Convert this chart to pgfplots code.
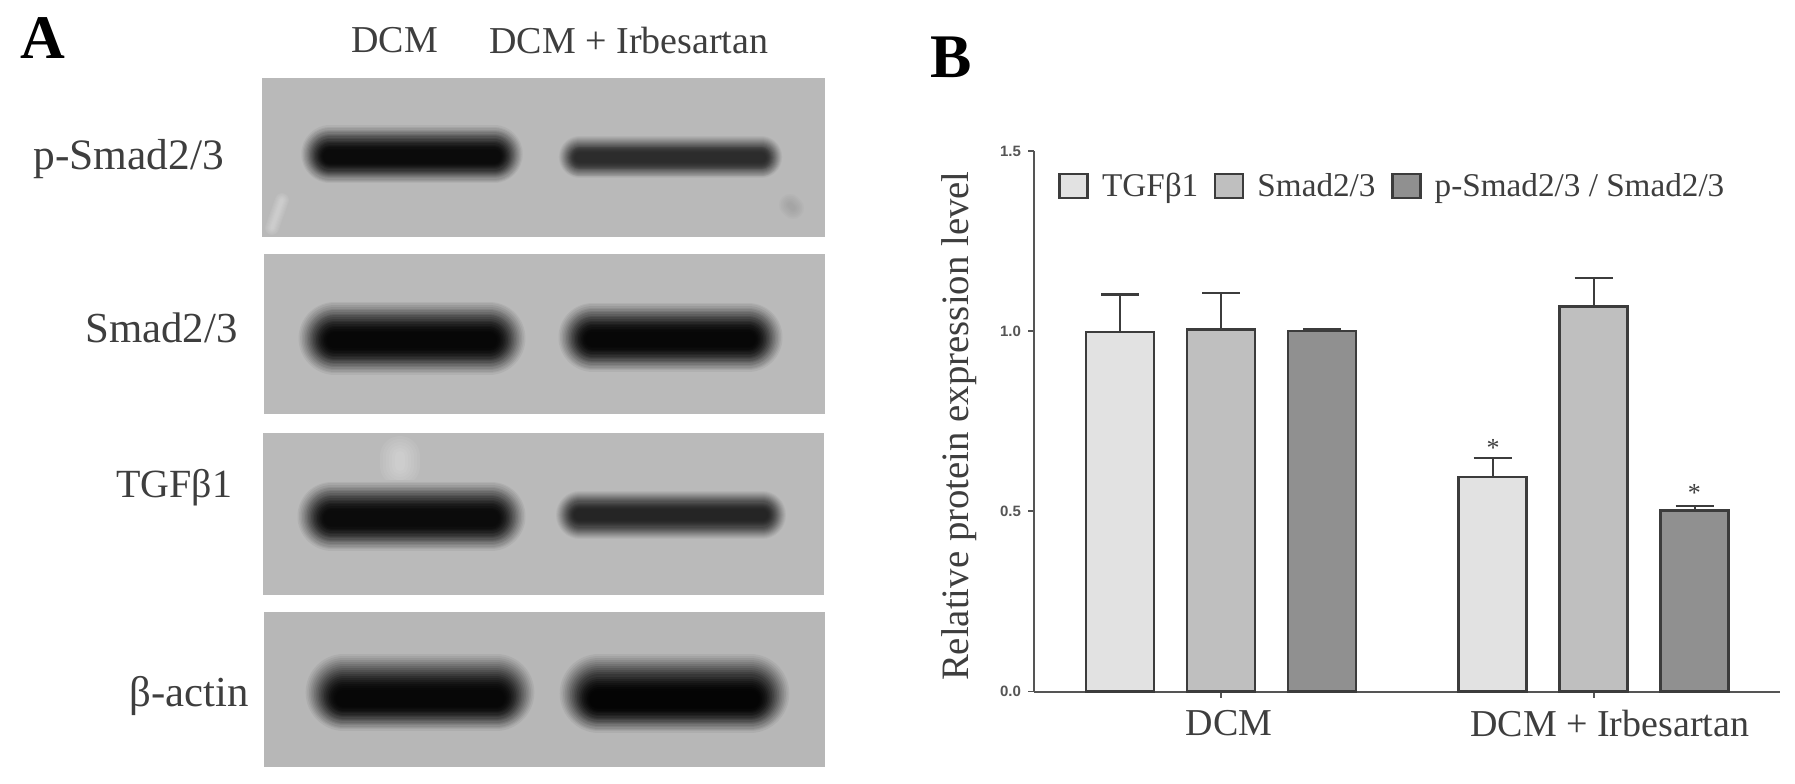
\documentclass[border=0pt]{standalone}
\usepackage{pgfplots}
\usepackage{fontspec}
\setmainfont{Liberation Serif}
\newfontfamily\ticksans{Liberation Sans}
\pgfplotsset{compat=1.18}
\definecolor{inktxt}{HTML}{3E3E3E}
\definecolor{axisgrey}{HTML}{555555}
\definecolor{barline}{HTML}{3C3C3C}
\definecolor{barA}{HTML}{E2E2E2}
\definecolor{barB}{HTML}{BFBFBF}
\definecolor{barC}{HTML}{909090}
\definecolor{bgA}{HTML}{B9B9B9}
\definecolor{bgB}{HTML}{BABABA}
\definecolor{bgC}{HTML}{BABABA}
\definecolor{bgD}{HTML}{B7B7B7}
% one blot panel, background rectangle in pixel coordinates
\newcommand{\panel}[5]{\addplot[forget plot,fill=#5,draw=none] coordinates {(#1,#3)(#2,#3)(#2,#4)(#1,#4)} -- cycle;}
% one band: x1 x2 ycentre halfheight peak-darkness background core-offset
\newcommand{\band}[7]{%
 \foreach \i in {0,...,23}{%
  \pgfmathsetmacro\t{\i/24}%
  \pgfmathsetmacro\s{min(1,\t/0.8)}%
  \pgfmathsetmacro\p{#5*0.5*((1-(1-\s)*(1-\s))+\s*\s*(3-2*\s))}%
  \pgfmathsetmacro\lw{#4*(1-\t)}%
  \pgfmathsetmacro\xa{#1+#4}%
  \pgfmathsetmacro\xb{#2-#4}%
  \pgfmathsetmacro\yy{#3+#7*\t}%
  \edef\temp{\noexpand\addplot[forget plot,line cap=round,line width=\lw pt,color=black!\p!#6] coordinates {(\xa,\yy)(\xb,\yy)};}%
  \temp
 }}
% faint mark on a blot: x1 y1 x2 y2 width colour
\newcommand{\smear}[6]{%
 \foreach \f in {1,0.85,0.7,0.55,0.4,0.25}{%
  \pgfmathsetmacro\lw{#5*\f}%
  \edef\temp{\noexpand\addplot[forget plot,line cap=round,line width=\lw pt,color=#6,opacity=0.06] coordinates {(#1,#2)(#3,#4)};}%
  \temp
 }}
\newcommand{\blotlabel}[5][inktxt]{\node[anchor=base west,inner sep=0pt,text=#1,font=\fontsize{#5}{#5}\selectfont] at (axis cs:#2,#3) {#4};}
\begin{document}
\begin{tikzpicture}
\path[use as bounding box] (0,0) rectangle (897.5pt,391.5pt);
% ---------- panel A ----------
\begin{axis}[at={(0,0)},anchor=south west,scale only axis,width=897.5pt,height=391.5pt,
  hide axis,clip=false,xmin=0,xmax=1795,ymin=0,ymax=783,y dir=reverse,no marks]
\panel{262}{825}{78}{237}{bgA}
\panel{264}{825}{254}{414}{bgB}
\panel{263}{824}{433}{595}{bgC}
\panel{264}{825}{612}{767}{bgD}
\smear{282}{200}{272}{228}{7}{white}
\smear{790}{205}{793}{208}{11}{gray}
\smear{400}{456}{400}{466}{20}{white}
\band{300}{524}{154}{30}{94}{bgA}{3}
\band{558}{783}{157}{22}{76}{bgA}{1}
\band{297}{527}{338}{38}{96}{bgB}{3}
\band{557}{784}{337}{36}{96}{bgB}{3}
\band{296}{527}{516}{36}{94}{bgC}{3}
\band{555}{787}{515}{25}{80}{bgC}{0}
\band{304}{536}{692}{40}{96}{bgD}{8}
\band{558}{791}{693}{41}{98}{bgD}{8}
\blotlabel[black]{20}{58}{\bfseries A}{31}
\blotlabel[black]{930}{77}{\bfseries B}{31}
\blotlabel{351}{52}{DCM}{19}
\blotlabel{489}{53}{DCM + Irbesartan}{19}
\blotlabel{33}{169}{p-Smad2/3}{21.7}
\blotlabel{85}{342}{Smad2/3}{21.4}
\blotlabel{116}{497}{TGFβ1}{20}
\blotlabel{129}{706}{β-actin}{21.4}
\end{axis}
% ---------- panel B ----------
\begin{axis}[at={(517pt,45.75pt)},anchor=south west,scale only axis,width=373pt,height=270.25pt,
  xmin=-0.502,xmax=1.5,ymin=0,ymax=1.5,
  ybar,bar width=34pt,
  axis x line=bottom,axis y line=left,
  axis line style={draw=axisgrey,line width=1pt,-},
  tick style={draw=axisgrey,line width=0.9pt},
  tick align=outside,major tick length=3pt,
  xtick={0,1},xticklabels={\hspace*{8pt}DCM,\hspace*{16pt}\raisebox{1.7pt}{DCM + Irbesartan}},
  x tick label style={font=\fontsize{19}{19}\selectfont,text=inktxt,yshift=-3pt},
  ytick={0,0.5,1,1.5},
  y tick label style={font=\ticksans\bfseries\fontsize{7.5}{8}\selectfont,text=axisgrey,
     /pgf/number format/assume math mode=true,/pgf/number format/fixed,/pgf/number format/fixed zerofill,/pgf/number format/precision=1},
  ylabel={Relative protein expression level},
  y label style={at={(axis description cs:-0.100,0.491)},anchor=center,rotate=0,font=\fontsize{19.4}{20}\selectfont,text=inktxt},
  error bars/y dir=plus,error bars/y explicit,
  error bars/error bar style={draw=barline,line width=1.1pt},
  error bars/error mark options={rotate=90,mark size=9.5pt,line width=1.1pt,draw=barline},
  legend style={at={(axis description cs:0.032,0.935)},anchor=west,draw=none,fill=none,inner sep=0pt,
     legend columns=-1,font=\fontsize{16.6}{17}\selectfont,text=inktxt,
     /tikz/every even column/.append style={column sep=5.7pt},
     /tikz/every odd column/.append style={column sep=4.6pt}},
  legend image code/.code={\draw[#1] (0pt,-6pt) rectangle (14pt,6pt);},
  clip=false]
\addplot[fill=barA,draw=barline,line width=1.3pt,bar shift=-50.5pt] coordinates {(0,0.998) +- (0,0.104) (1,0.595) +- (0,0.053)};
\addlegendentry{TGFβ1}
\addplot[fill=barB,draw=barline,line width=1.3pt,bar shift=0pt] coordinates {(0,1.005) +- (0,0.102) (1,1.068) +- (0,0.080)};
\addlegendentry{Smad2/3}
\addplot[fill=barC,draw=barline,line width=1.3pt,bar shift=50.5pt] coordinates {(0,1.000) +- (0,0.007) (1,0.502) +- (0,0.013)};
\addlegendentry{p-Smad2/3 / Smad2/3}
\node[font=\fontsize{13}{13}\selectfont,text=inktxt,anchor=center] at (axis cs:0.73,0.675) {*};
\node[font=\fontsize{13}{13}\selectfont,text=inktxt,anchor=center] at (axis cs:1.27,0.55) {*};
\end{axis}
\end{tikzpicture}
\end{document}
